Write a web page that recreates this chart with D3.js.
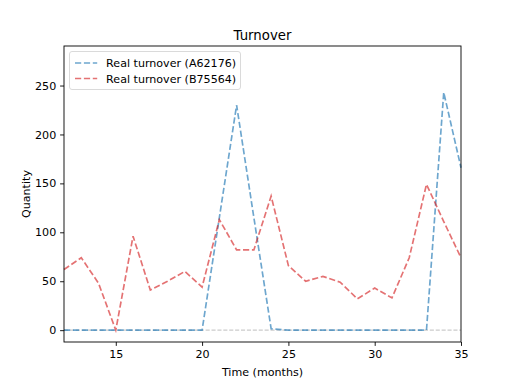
<!DOCTYPE html>
<html>
<head>
<meta charset="utf-8">
<script src="https://cdn.jsdelivr.net/npm/d3@7"></script>
<style>
  body { margin: 0; background: #fff; }
  svg { font-family: "DejaVu Sans", sans-serif; }
</style>
</head>
<body>
<svg id="chart" width="512" height="384"></svg>
<script>
// months on the x axis
const months = [12, 13, 14, 15, 16, 17, 18, 19, 20, 21, 22, 23, 24, 25, 26, 27, 28, 29, 30, 31, 32, 33, 34, 35];
const turnoverA = [0, 0, 0, 0, 0, 0, 0, 0, 0, 115, 230, 115, 1.5, 0, 0, 0, 0, 0, 0, 0, 0, 0, 243, 166];
const turnoverB = [62, 74, 48, 0, 96, 41, 50, 60, 44, 113, 82, 82, 137, 66, 50, 55, 49, 32, 43, 33, 74, 149, 111, 74];
const seriesNames = ["Real turnover (A62176)", "Real turnover (B75564)"];
const xTicks = [15, 20, 25, 30, 35];
const yTicks = [0, 50, 100, 150, 200, 250];

const width = 512;
const height = 384;
const margin = { left: 64, right: 51, top: 46, bottom: 42 };

const svg = d3.select("#chart");

const xScale = d3.scaleLinear().domain([12, 35]).range([margin.left, width - margin.right]);
const yScale = d3.scaleLinear().domain([-12.1, 290.4]).range([height - margin.bottom, margin.top]);

const colors = ["#1f77b4", "#d62728"];

// reference line at zero
svg.append("line")
	.attr("x1", xScale(12)).attr("x2", xScale(35))
	.attr("y1", yScale(0)).attr("y2", yScale(0))
	.attr("stroke", "#cccccc")
	.attr("stroke-width", 1.1)
	.attr("stroke-dasharray", "4.1,1.8");

const line = d3.line()
	.x((d, i) => xScale(months[i]))
	.y(d => yScale(d));

[turnoverA, turnoverB].forEach((s, k) => {
	svg.append("path")
		.datum(s)
		.attr("fill", "none")
		.attr("stroke", colors[k])
		.attr("stroke-opacity", 0.65)
		.attr("stroke-width", 1.67)
		.attr("stroke-dasharray", "6.2,2.7")
		.attr("d", line);
});

// axes
const xAxis = d3.axisBottom(xScale).tickValues(xTicks).tickSize(3.9).tickPadding(3.9);
const yAxis = d3.axisLeft(yScale).tickValues(yTicks).tickSize(3.9).tickPadding(3.9);

const gx = svg.append("g")
	.attr("transform", `translate(0, ${height - margin.bottom})`)
	.call(xAxis);
const gy = svg.append("g")
	.attr("transform", `translate(${margin.left}, 0)`)
	.call(yAxis);

[gx, gy].forEach(g => {
	g.select(".domain").remove();
	g.selectAll("text").attr("font-size", 11.1).attr("fill", "#000").attr("font-family", "DejaVu Sans");
	g.selectAll("line").attr("stroke", "#000").attr("stroke-width", 0.9);
});

// spines
svg.append("rect")
	.attr("x", margin.left).attr("y", margin.top)
	.attr("width", width - margin.left - margin.right)
	.attr("height", height - margin.top - margin.bottom)
	.attr("fill", "none")
	.attr("stroke", "#000")
	.attr("stroke-width", 0.9);

// title and labels
svg.append("text")
	.attr("x", (margin.left + width - margin.right) / 2)
	.attr("y", 40)
	.attr("text-anchor", "middle")
	.attr("font-size", 13.3)
	.text("Turnover");

svg.append("text")
	.attr("x", (margin.left + width - margin.right) / 2)
	.attr("y", 376)
	.attr("text-anchor", "middle")
	.attr("font-size", 11.1)
	.text("Time (months)");

svg.append("text")
	.attr("transform", `translate(30, ${(margin.top + height - margin.bottom) / 2}) rotate(-90)`)
	.attr("text-anchor", "middle")
	.attr("font-size", 11.1)
	.text("Quantity");

// legend
const legend = svg.append("g").attr("transform", `translate(${margin.left + 5.5}, ${margin.top + 5.5})`);
legend.append("rect")
	.attr("width", 171)
	.attr("height", 38)
	.attr("rx", 2.5)
	.attr("fill", "#fff")
	.attr("fill-opacity", 0.8)
	.attr("stroke", "#d6d6d6")
	.attr("stroke-width", 0.9);

seriesNames.forEach((name, k) => {
	const yy = 11.5 + k * 15.5;
	legend.append("line")
		.attr("x1", 5.5).attr("x2", 27.7)
		.attr("y1", yy).attr("y2", yy)
		.attr("stroke", colors[k])
		.attr("stroke-opacity", 0.65)
		.attr("stroke-width", 1.67)
		.attr("stroke-dasharray", "6.2,2.7");
	legend.append("text")
		.attr("x", 36.6)
		.attr("y", yy + 4)
		.attr("font-size", 11.1)
		.text(name);
});
</script>
</body>
</html>
